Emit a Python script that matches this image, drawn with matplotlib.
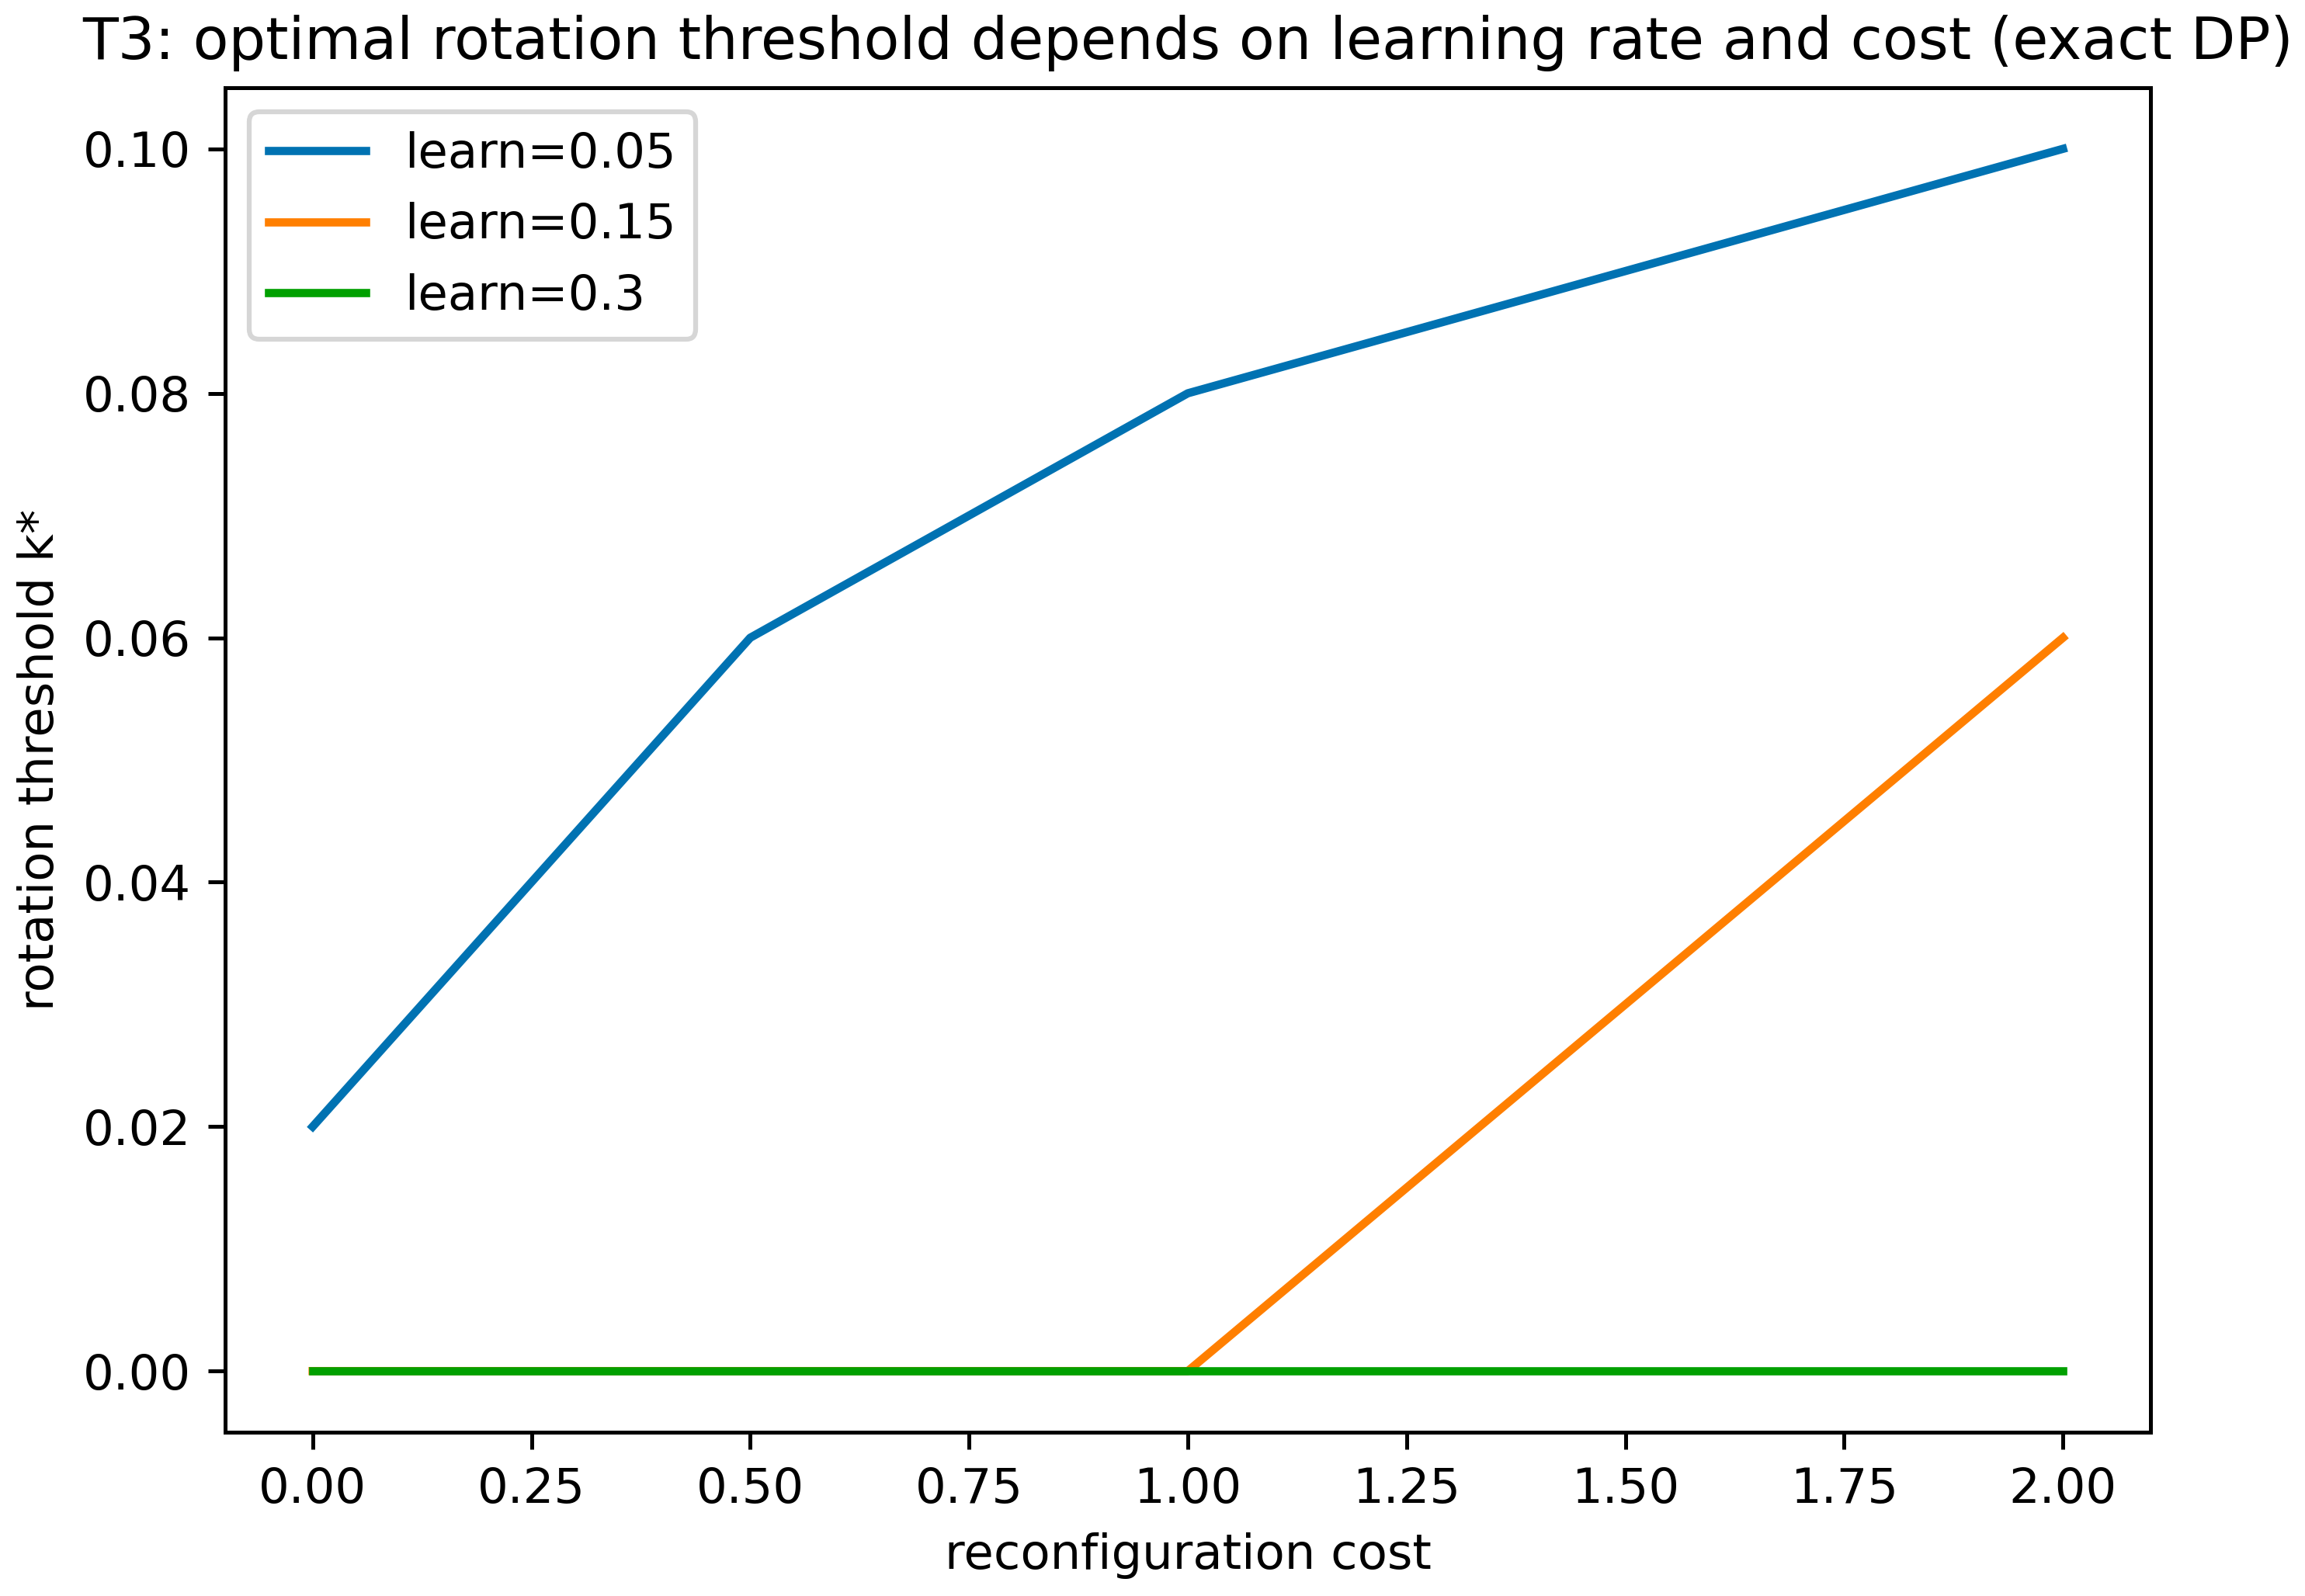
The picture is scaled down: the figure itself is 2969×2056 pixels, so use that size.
import matplotlib
matplotlib.use("Agg")
import matplotlib.pyplot as plt

# reconfiguration cost grid and optimal thresholds per learning rate
costs = [0.0, 0.5, 1.0, 2.0]
learn_rates = ["0.05", "0.15", "0.3"]
k_learn_005 = [0.02, 0.06, 0.08, 0.10]
k_learn_015 = [0.0, 0.0, 0.0, 0.06]
k_learn_03 = [0.0, 0.0, 0.0, 0.0]
colors = ["#0072B2", "#FF7F00", "#00A000"]

DPI = 450
fig = plt.figure(figsize=(2969 / DPI, 2056 / DPI), dpi=DPI)
ax = fig.add_axes([290 / 2969, 1 - 1845 / 2056, 2480 / 2969, 1732 / 2056])

for lr, ks, c in zip(learn_rates, [k_learn_005, k_learn_015, k_learn_03], colors):
    ax.plot(costs, ks, color=c, linewidth=1.7, label=f"learn={lr}")

ax.set_xticks([0, 0.25, 0.5, 0.75, 1.0, 1.25, 1.5, 1.75, 2.0])
ax.set_xticklabels([f"{t:.2f}" for t in ax.get_xticks()])
ax.set_yticks([0.0, 0.02, 0.04, 0.06, 0.08, 0.10])
ax.set_yticklabels([f"{t:.2f}" for t in ax.get_yticks()])

ax.set_title("T3: optimal rotation threshold depends on learning rate and cost (exact DP)")
ax.set_xlabel("reconfiguration cost")
ax.set_ylabel("rotation threshold k*")
ax.legend(loc="upper left")

fig.savefig("out.png", dpi=DPI)
